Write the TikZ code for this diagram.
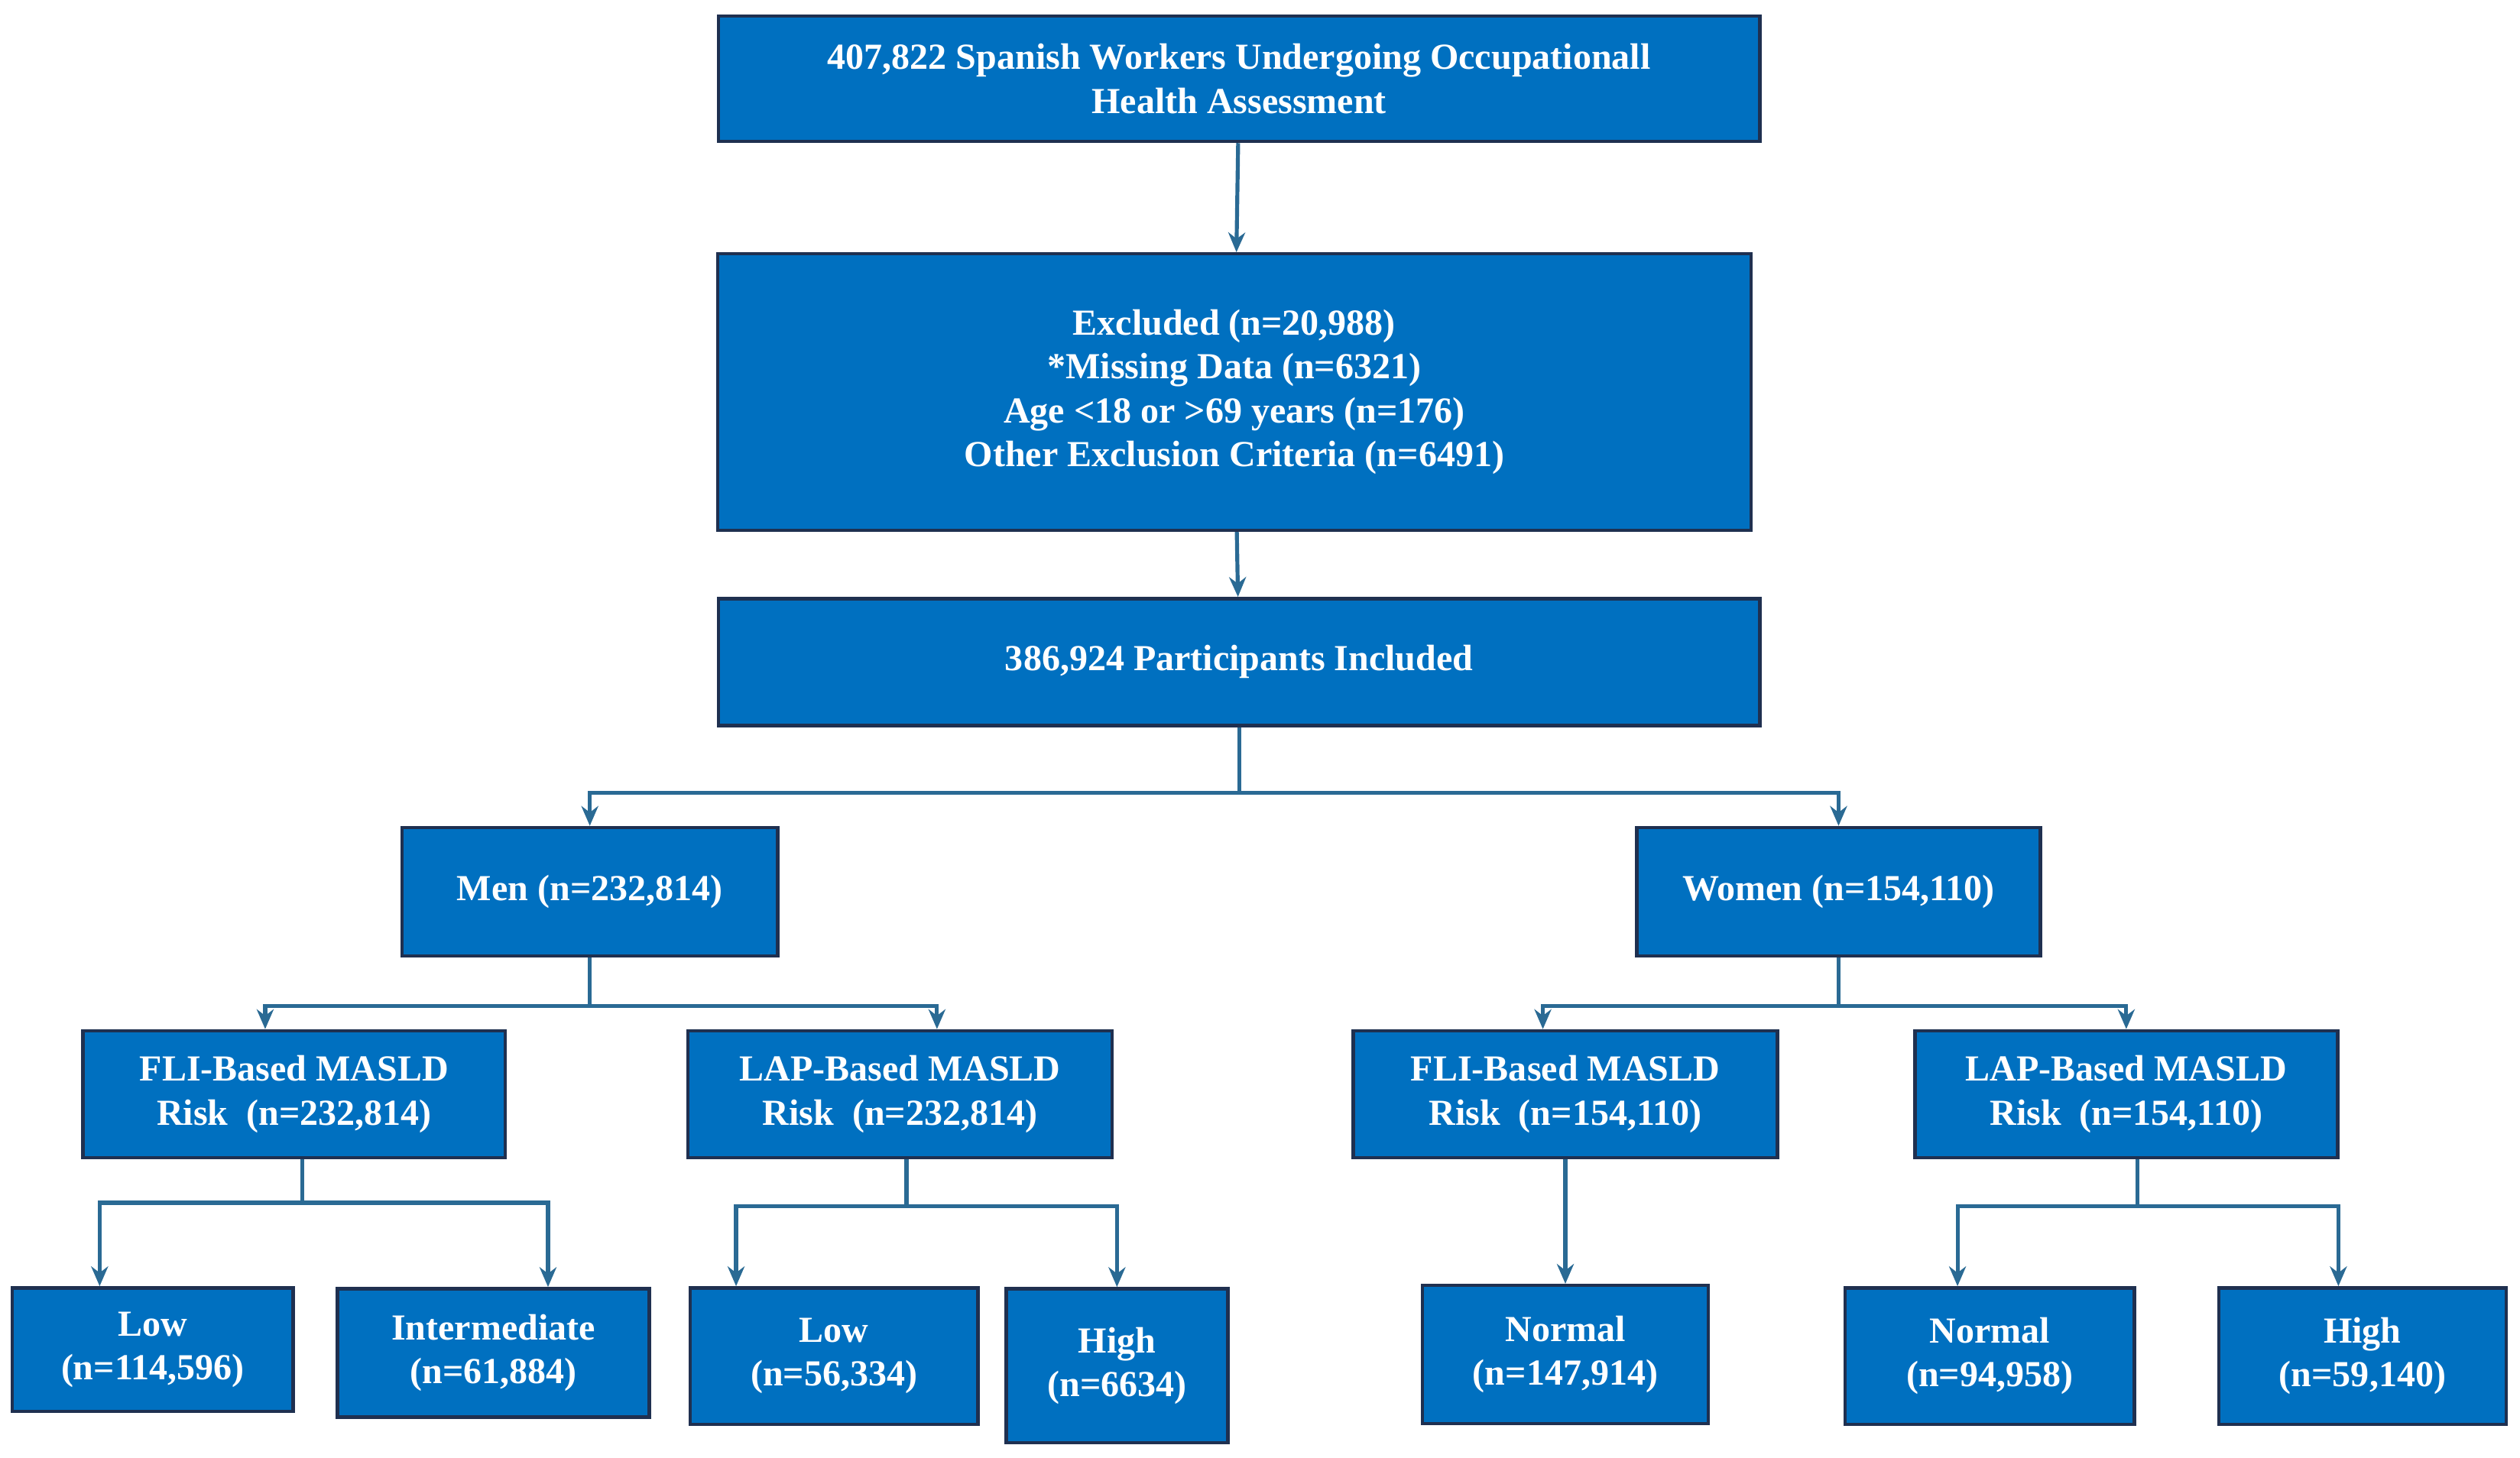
\documentclass[tikz,border=0pt]{standalone}
\usepackage{fontspec}
\setmainfont{Liberation Serif}
\usetikzlibrary{arrows.meta,positioning}
\definecolor{boxblue}{HTML}{0070C0}
\definecolor{boxline}{HTML}{1F3050}
\definecolor{linkblue}{HTML}{2A6A94}
\tikzset{box/.style={draw=boxline, line width=1.2pt, fill=boxblue, text=white, font=\fontsize{13}{15.5}\selectfont\bfseries, align=center, inner sep=2pt},
  link/.style={draw=linkblue, line width=1.4pt, -{Stealth[length=7pt,width=6pt]}}}
\begin{document}
\begin{tikzpicture}[x=0.02cm, y=-0.02cm]
\useasboundingbox (0,0) rectangle (1568,907);
% top part
\node[box, minimum width=12.96cm, minimum height=1.56cm] (all) at (771,49) {407,822 Spanish Workers Undergoing Occupationall\\Health Assessment};
\node[box, minimum width=12.86cm, minimum height=3.44cm] (excl) at (768,244) {Excluded (n=20,988)\\*Missing Data (n=6321)\\Age <18 or >69 years (n=176)\\Other Exclusion Criteria (n=6491)};
\node[box, minimum width=12.96cm, minimum height=1.58cm] (incl) at (771,412) {386,924 Participants Included};
% sex
\node[box, minimum width=4.68cm, minimum height=1.6cm] (men) at (367,555) {Men (n=232,814)};
\node[box, minimum width=5.02cm, minimum height=1.6cm] (women) at (1144,555) {Women (n=154,110)};
% scores
\node[box, minimum width=5.26cm, minimum height=1.58cm] (fliM) at (183,681) {FLI-Based MASLD\\Risk\ \ (n=232,814)};
\node[box, minimum width=5.28cm, minimum height=1.58cm] (lapM) at (560,681) {LAP-Based MASLD\\Risk\ \ (n=232,814)};
\node[box, minimum width=5.28cm, minimum height=1.58cm] (fliW) at (974,681) {FLI-Based MASLD\\Risk\ \ (n=154,110)};
\node[box, minimum width=5.26cm, minimum height=1.58cm] (lapW) at (1323,681) {LAP-Based MASLD\\Risk\ \ (n=154,110)};
% risk groups
\node[box, minimum width=3.5cm, minimum height=1.54cm] (lowF) at (95,840) {Low\\(n=114,596)};
\node[box, minimum width=3.88cm, minimum height=1.6cm] (midF) at (307,842) {Intermediate\\(n=61,884)};
\node[box, minimum width=3.58cm, minimum height=1.7cm] (lowL) at (519,844) {Low\\(n=56,334)};
\node[box, minimum width=2.76cm, minimum height=1.92cm] (highL) at (695,850) {High\\(n=6634)};
\node[box, minimum width=3.56cm, minimum height=1.72cm] (normF) at (974,843) {Normal\\(n=147,914)};
\node[box, minimum width=3.6cm, minimum height=1.7cm] (normL) at (1238,844) {Normal\\(n=94,958)};
\node[box, minimum width=3.58cm, minimum height=1.7cm] (highW) at (1470,844) {High\\(n=59,140)};
% links
\draw[link] (all) -- (excl);
\draw[link] (excl) -- (incl);
\draw[link] (incl.south) -- ++(0,41) -| (men.north);
\draw[link] (incl.south) -- ++(0,41) -| (women.north);
\draw[link] (men.south) -- ++(0,30) -| ([xshift=-0.36cm]fliM.north);
\draw[link] (men.south) -- ++(0,30) -| ([xshift=0.46cm]lapM.north);
\draw[link] (women.south) -- ++(0,30) -| ([xshift=-0.28cm]fliW.north);
\draw[link] (women.south) -- ++(0,30) -| (lapW.north);
\draw[link] ([xshift=0.1cm]fliM.south) -- ++(0,27) -| ([xshift=-0.66cm]lowF.north);
\draw[link] ([xshift=0.1cm]fliM.south) -- ++(0,27) -| ([xshift=0.68cm]midF.north);
\draw[link] ([xshift=0.08cm]lapM.south) -- ++(0,29) -| ([xshift=-1.22cm]lowL.north);
\draw[link] ([xshift=0.08cm]lapM.south) -- ++(0,29) -| (highL.north);
\draw[link] (fliW) -- (normF);
\draw[link] ([xshift=0.14cm]lapW.south) -- ++(0,29) -| ([xshift=-0.4cm]normL.north);
\draw[link] ([xshift=0.14cm]lapW.south) -- ++(0,29) -| ([xshift=-0.3cm]highW.north);
\end{tikzpicture}
\end{document}
